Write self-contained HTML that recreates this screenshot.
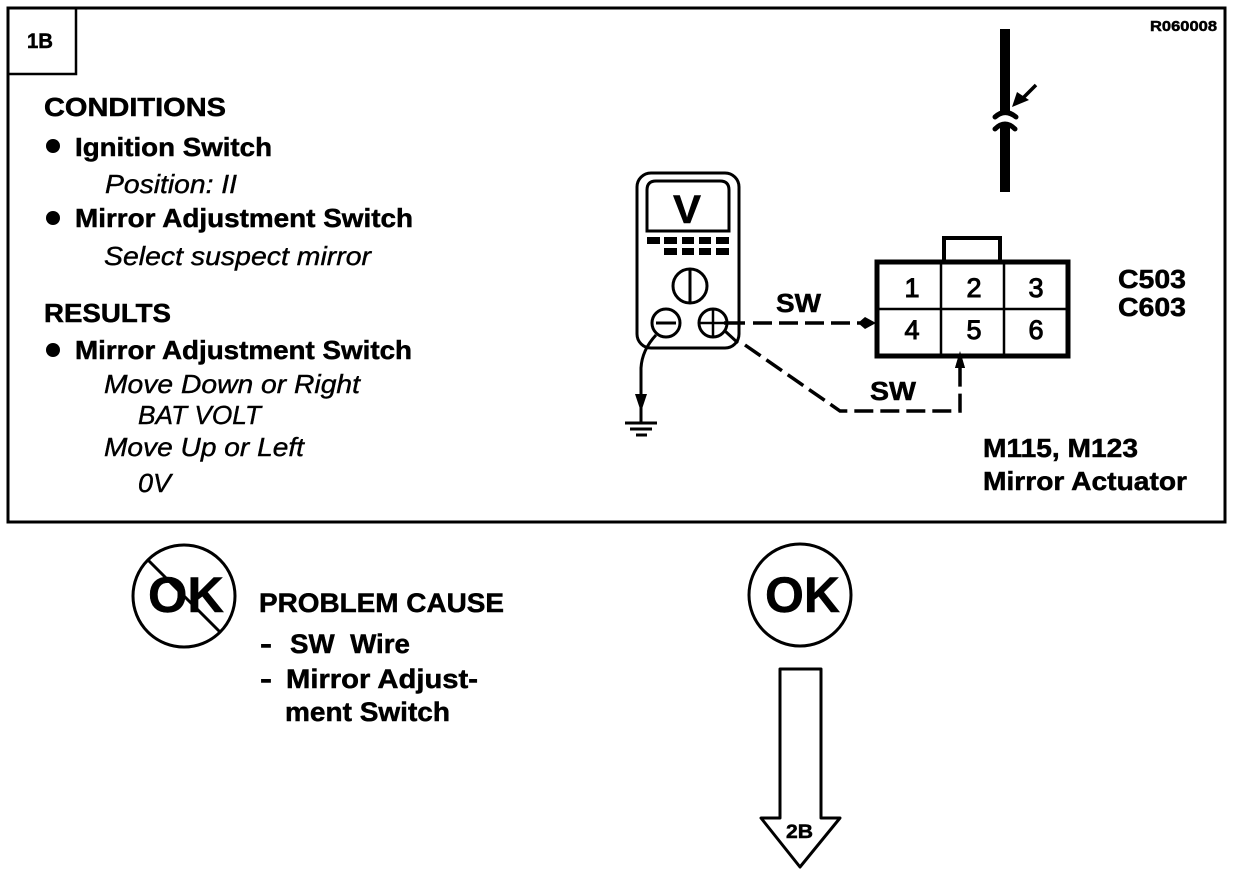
<!DOCTYPE html>
<html><head><meta charset="utf-8"><style>
html,body{margin:0;padding:0;background:#fff}
svg{display:block}
text{font-family:"Liberation Sans",sans-serif;font-weight:bold;fill:#000;stroke:#000;stroke-width:.5}
.i{font-style:italic;font-weight:normal;stroke-width:.4}
.n{font-weight:normal;stroke-width:1}
</style></head><body>
<svg width="1248" height="874" viewBox="0 0 1248 874" xmlns="http://www.w3.org/2000/svg">
<rect x="8" y="8" width="1217" height="514" fill="none" stroke="#000" stroke-width="3"/>
<path d="M8 74H76V8" fill="none" stroke="#000" stroke-width="2.5"/>
<text x="27" y="48" font-size="21" textLength="26" lengthAdjust="spacingAndGlyphs">1B</text>
<text x="1150" y="31" font-size="15" textLength="67" lengthAdjust="spacingAndGlyphs">R060008</text>

<g font-size="26">
<text x="44" y="116" textLength="182" lengthAdjust="spacingAndGlyphs">CONDITIONS</text>
<circle cx="53" cy="146" r="7"/>
<text x="75" y="156" textLength="197" lengthAdjust="spacingAndGlyphs">Ignition Switch</text>
<text class="i" x="105" y="193" textLength="132" lengthAdjust="spacingAndGlyphs">Position: II</text>
<circle cx="53" cy="218" r="7"/>
<text x="75" y="227" textLength="338" lengthAdjust="spacingAndGlyphs">Mirror Adjustment Switch</text>
<text class="i" x="104" y="265" textLength="267" lengthAdjust="spacingAndGlyphs">Select suspect mirror</text>
<text x="44" y="322" textLength="127" lengthAdjust="spacingAndGlyphs">RESULTS</text>
<circle cx="53" cy="350" r="7"/>
<text x="75" y="359" textLength="337" lengthAdjust="spacingAndGlyphs">Mirror Adjustment Switch</text>
<text class="i" x="104" y="393" textLength="256" lengthAdjust="spacingAndGlyphs">Move Down or Right</text>
<text class="i" x="138" y="424" textLength="123" lengthAdjust="spacingAndGlyphs">BAT VOLT</text>
<text class="i" x="104" y="456" textLength="200" lengthAdjust="spacingAndGlyphs">Move Up or Left</text>
<text class="i" x="138" y="492" textLength="33" lengthAdjust="spacingAndGlyphs">0V</text>
</g>

<!-- splice symbol -->
<rect x="1000" y="29" width="10" height="83"/>
<rect x="1000" y="124" width="10" height="68"/>
<path d="M995 117Q1005 108 1016 117" fill="none" stroke="#000" stroke-width="5" stroke-linecap="round"/>
<path d="M995 129Q1005 119 1015 129" fill="none" stroke="#000" stroke-width="5" stroke-linecap="round"/>
<path d="M1036 85L1022 99" stroke="#000" stroke-width="3.5"/>
<path d="M1012 107L1017 92L1029 100Z"/>

<!-- meter -->
<rect x="637" y="173" width="102" height="175" rx="14" fill="#fff" stroke="#000" stroke-width="3"/>
<path d="M647 231V190Q647 181 656 181H720Q729 181 729 190V231Z" fill="none" stroke="#000" stroke-width="3"/>
<text x="673" y="223" font-size="40" textLength="28" lengthAdjust="spacingAndGlyphs">V</text>
<g>
<rect x="647" y="237" width="13" height="7"/><rect x="664" y="237" width="13" height="7"/><rect x="682" y="237" width="12" height="7"/><rect x="699" y="237" width="12" height="7"/><rect x="716" y="237" width="13" height="7"/>
<rect x="664" y="248" width="13" height="7"/><rect x="682" y="248" width="12" height="7"/><rect x="699" y="248" width="12" height="7"/><rect x="716" y="248" width="13" height="7"/>
</g>
<circle cx="690" cy="286" r="17" fill="none" stroke="#000" stroke-width="3"/>
<path d="M690 270V302" stroke="#000" stroke-width="3"/>
<circle cx="666" cy="323" r="14" fill="#fff" stroke="#000" stroke-width="3"/>
<path d="M656 323H676" stroke="#000" stroke-width="3"/>
<circle cx="713" cy="323" r="14" fill="#fff" stroke="#000" stroke-width="3"/>
<path d="M699 323H727M713 309V337" stroke="#000" stroke-width="2.5"/>
<path d="M656 335Q642 350 641 368V423" fill="none" stroke="#000" stroke-width="3"/>
<path d="M635 394H647L641 412Z"/>
<path d="M625 423H657" stroke="#000" stroke-width="3"/>
<path d="M630 429H652" stroke="#000" stroke-width="3"/>
<path d="M636 435H647" stroke="#000" stroke-width="3"/>

<!-- wires -->
<path d="M724 323H745" stroke="#000" stroke-width="3.5"/>
<path d="M753 323H860" fill="none" stroke="#000" stroke-width="3.5" stroke-dasharray="19 7"/>
<path d="M858 323L865 317L876 323L865 329Z"/>
<path d="M725 331L738 343" stroke="#000" stroke-width="3"/>
<path d="M745 345L840 411H960V366" fill="none" stroke="#000" stroke-width="3.5" stroke-dasharray="19 7"/>
<path d="M955 368L960 351L965 368Z"/>
<text x="776" y="312" font-size="26" textLength="45" lengthAdjust="spacingAndGlyphs">SW</text>
<text x="870" y="400" font-size="26" textLength="46" lengthAdjust="spacingAndGlyphs">SW</text>

<!-- connector -->
<path d="M944 261V238H1000V261" fill="none" stroke="#000" stroke-width="4"/>
<rect x="877" y="262" width="191" height="94" fill="#fff" stroke="#000" stroke-width="5"/>
<path d="M877 309H1068M941 262V356M1004 262V356" stroke="#000" stroke-width="2.5"/>
<g font-size="27" text-anchor="middle">
<text class="n" x="912" y="297">1</text><text class="n" x="974" y="297">2</text><text class="n" x="1036" y="297">3</text>
<text class="n" x="912" y="339">4</text><text class="n" x="974" y="339">5</text><text class="n" x="1036" y="339">6</text>
</g>
<path d="M955 368L960 351L965 368Z"/>
<g font-size="26">
<text x="1118" y="288" textLength="68" lengthAdjust="spacingAndGlyphs">C503</text>
<text x="1118" y="316" textLength="68" lengthAdjust="spacingAndGlyphs">C603</text>
<text x="983" y="457" textLength="155" lengthAdjust="spacingAndGlyphs">M115, M123</text>
<text x="983" y="490" textLength="204" lengthAdjust="spacingAndGlyphs">Mirror Actuator</text>
</g>

<!-- NOT OK -->
<circle cx="184" cy="596" r="51" fill="none" stroke="#000" stroke-width="3"/>
<path d="M148 560L220 632" stroke="#000" stroke-width="3"/>
<text x="148" y="612" font-size="50" textLength="76" lengthAdjust="spacingAndGlyphs">OK</text>
<g font-size="27">
<text x="259" y="612" textLength="245" lengthAdjust="spacingAndGlyphs">PROBLEM CAUSE</text>
<text x="260" y="653" textLength="12" lengthAdjust="spacingAndGlyphs">-</text>
<text x="290" y="653" textLength="120" lengthAdjust="spacingAndGlyphs" xml:space="preserve">SW  Wire</text>
<text x="260" y="688" textLength="12" lengthAdjust="spacingAndGlyphs">-</text>
<text x="286" y="688" textLength="192" lengthAdjust="spacingAndGlyphs">Mirror Adjust-</text>
<text x="285" y="721" textLength="165" lengthAdjust="spacingAndGlyphs">ment Switch</text>
</g>

<!-- OK -->
<circle cx="800" cy="595" r="51" fill="none" stroke="#000" stroke-width="3"/>
<text x="765" y="612" font-size="50" textLength="75" lengthAdjust="spacingAndGlyphs">OK</text>

<!-- arrow -->
<path d="M780 818V669H821V818H840L800 867L761 818Z" fill="#fff" stroke="#000" stroke-width="3" stroke-linejoin="round"/>
<text x="786" y="838" font-size="19" textLength="27" lengthAdjust="spacingAndGlyphs">2B</text>
</svg>
</body></html>
